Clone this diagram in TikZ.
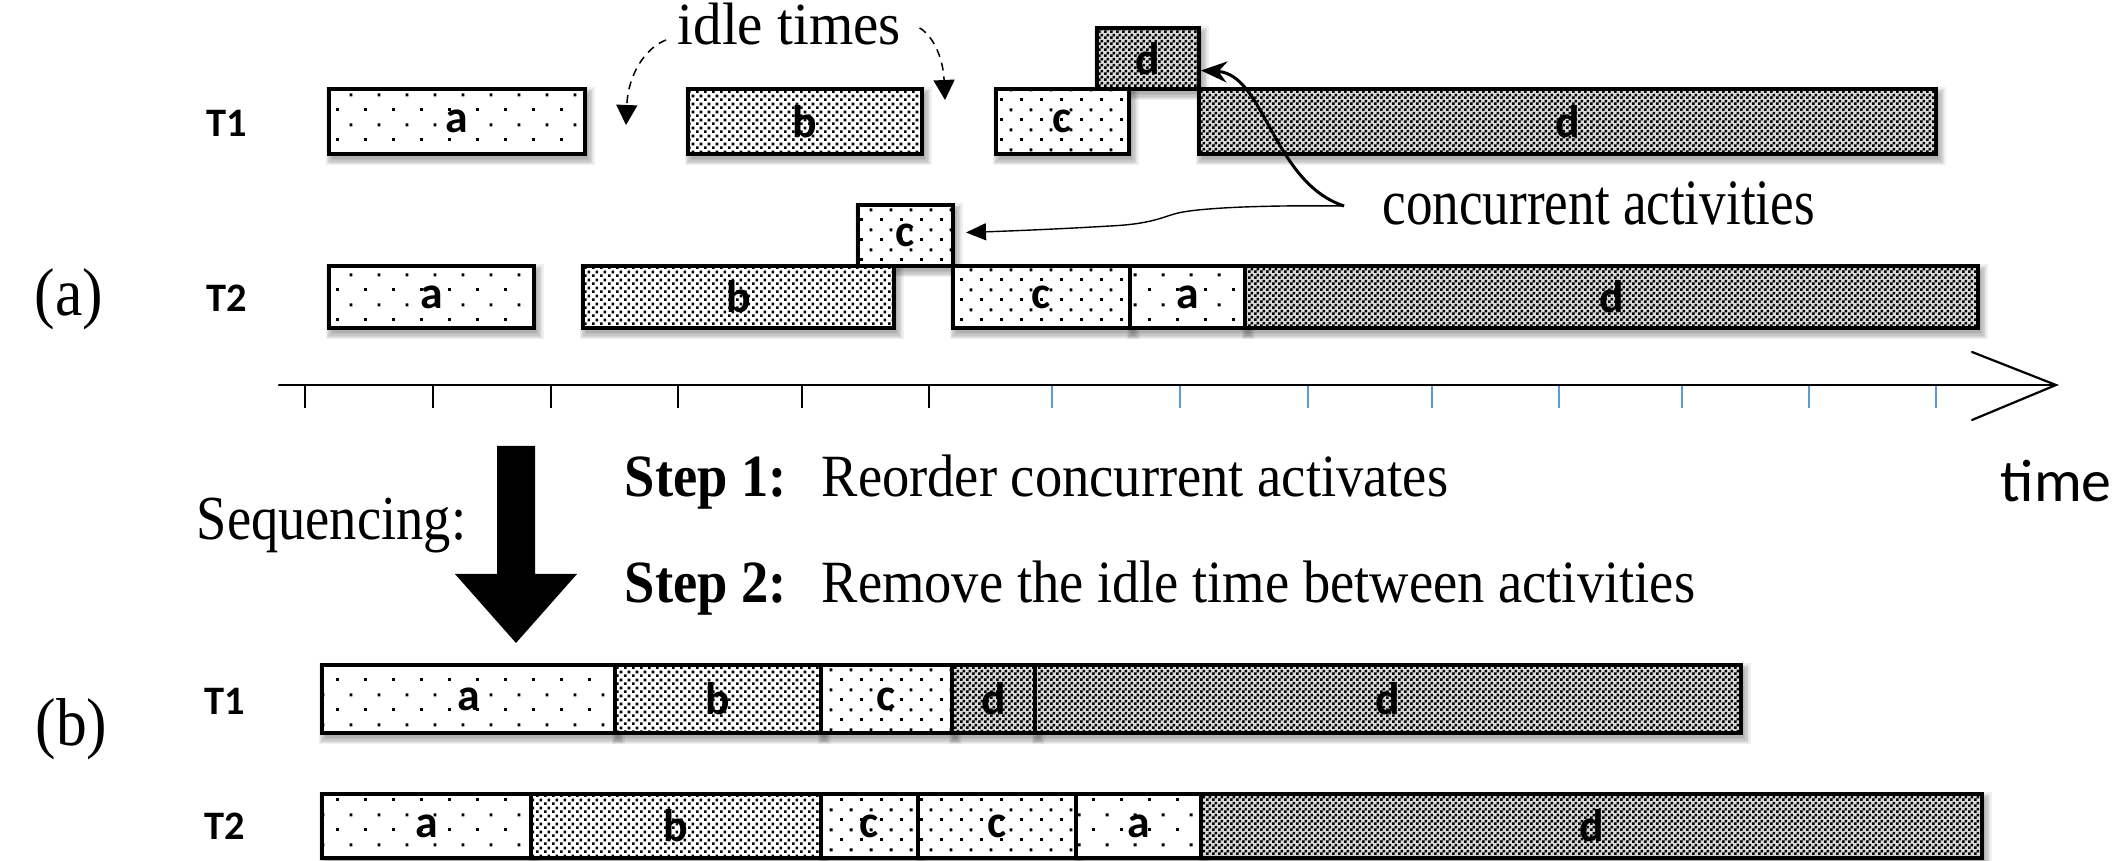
\documentclass[tikz,border=0pt]{standalone}
\usepackage{fontspec}
\usepackage{graphicx}
\setmainfont{Liberation Serif}
\newfontfamily\calibri{Carlito}
\usetikzlibrary{arrows.meta,patterns,calc}

\pgfdeclarelayer{shade}
\pgfsetlayers{shade,main}

% fill patterns of the activity boxes (1px = 0.01cm = 0.28453pt)
\pgfdeclarepatternformonly{adots}{\pgfpointorigin}{\pgfqpoint{7.967pt}{8.536pt}}{\pgfqpoint{7.967pt}{8.536pt}}{%
  \pgfpathrectangle{\pgfqpoint{0pt}{0pt}}{\pgfqpoint{0.854pt}{0.854pt}}%
  \pgfpathrectangle{\pgfqpoint{3.983pt}{4.268pt}}{\pgfqpoint{0.854pt}{0.854pt}}%
  \pgfusepath{fill}}
\pgfdeclarepatternformonly{cdots}{\pgfpointorigin}{\pgfqpoint{5.691pt}{5.691pt}}{\pgfqpoint{5.691pt}{5.691pt}}{%
  \pgfpathrectangle{\pgfqpoint{0pt}{0pt}}{\pgfqpoint{0.854pt}{0.854pt}}%
  \pgfpathrectangle{\pgfqpoint{2.845pt}{2.845pt}}{\pgfqpoint{0.854pt}{0.854pt}}%
  \pgfusepath{fill}}
\pgfdeclarepatternformonly{bdots}{\pgfpointorigin}{\pgfqpoint{2.276pt}{2.276pt}}{\pgfqpoint{2.276pt}{2.276pt}}{%
  \pgfpathrectangle{\pgfqpoint{0pt}{0pt}}{\pgfqpoint{0.854pt}{0.854pt}}%
  \pgfpathrectangle{\pgfqpoint{1.138pt}{1.138pt}}{\pgfqpoint{0.854pt}{0.854pt}}%
  \pgfusepath{fill}}
\pgfdeclarepatternformonly{dcheck}{\pgfpointorigin}{\pgfqpoint{1.707pt}{1.707pt}}{\pgfqpoint{1.707pt}{1.707pt}}{%
  \pgfpathrectangle{\pgfqpoint{0pt}{0pt}}{\pgfqpoint{0.854pt}{0.854pt}}%
  \pgfpathrectangle{\pgfqpoint{0.854pt}{0.854pt}}{\pgfqpoint{0.854pt}{0.854pt}}%
  \pgfusepath{fill}}

\definecolor{tickblue}{HTML}{5B9BD5}

% vertically stretched text
\newcommand\vstr[2]{\scalebox{1}[#1]{#2}}

% activity box: name, x1, y1, x2, y2, style, label (with a soft shadow below)
\newcommand\actbox[7]{%
  \begin{pgfonlayer}{shade}
    \foreach \k in {0,...,5}
      \fill[black, opacity=0.06] (#2+3-\k*1.3, #3+5-\k*1.3) rectangle (#4+3+\k*1.3, #5+5+\k*1.3);
  \end{pgfonlayer}
  \pgfmathsetmacro\boxw{(#4-#2)*0.01}%
  \pgfmathsetmacro\boxh{(#5-#3)*0.01}%
  \node[actbox, #6, minimum width=\boxw cm, minimum height=\boxh cm]
    (#1) at ({(#2+#4)/2},{(#3+#5)/2}) {#7};%
}

\tikzset{
  actbox/.style={draw=black, line width=0.033cm, inner sep=0pt, outer sep=0pt,
    font=\calibri\bfseries\fontsize{13}{14}\selectfont},
  pa/.style={preaction={fill=white}, pattern=adots},
  pb/.style={preaction={fill=white}, pattern=bdots},
  pc/.style={preaction={fill=white}, pattern=cdots},
  pd/.style={preaction={fill=black!15}, pattern=dcheck},
  rowlbl/.style={anchor=base, inner sep=0pt, font=\calibri\bfseries\fontsize{11.5}{13}\selectfont},
  serif/.style={anchor=base west, inner sep=0pt},
  idlearrow/.style={line width=0.015cm, dash pattern=on 0.08cm off 0.06cm,
    -{Triangle[length=0.2cm, width=0.21cm]}},
  concarrow/.style={line width=0.03cm, -{Stealth[length=0.26cm, width=0.21cm]}},
  concarrowthin/.style={line width=0.014cm, -{Triangle[length=0.2cm, width=0.17cm]}},
  axisline/.style={line width=0.022cm, line cap=round},
  tickmark/.style={line width=0.014cm},
}

\begin{document}
\begin{tikzpicture}[x=0.01cm, y=-0.01cm]
\useasboundingbox (0,0) rectangle (2120,861);

% ---------- (a) original schedule ----------
\node[serif] (lbla) at (34,316) {\fontsize{17.5}{20}\selectfont\vstr{1.1}{(a)}};
\node[rowlbl] (t1a) at (227,137) {T1};
\node[rowlbl] (t2a) at (227,312) {T2};

% T1
\actbox{a1a}{329}{89}{585}{154}{pa}{a}
\actbox{a1b}{688}{89}{922}{154}{pb}{b}
\actbox{a1c}{996}{89}{1129}{154}{pc}{c}
\actbox{a1ds}{1097}{28}{1199}{89}{pd}{d}
\actbox{a1d}{1199}{89}{1936}{154}{pd}{d}

% T2
\actbox{a2a}{329}{266}{534}{328}{pa}{a}
\actbox{a2b}{583}{266}{894}{328}{pb}{b}
\actbox{a2cs}{858}{205}{953}{266}{pc}{c}
\actbox{a2c}{953}{266}{1130}{328}{pc}{c}
\actbox{a2a2}{1130}{266}{1245}{328}{pa}{a}
\actbox{a2d}{1245}{266}{1978}{328}{pd}{d}

% idle times annotation
\node[serif] (idle) at (677,45) {\fontsize{16.2}{18}\selectfont\vstr{1.05}{idle times}};
\coordinate (gap1) at (626,125);
\coordinate (gap2) at (945,100);
\draw[idlearrow] ($(idle.base west)+(-11,-5)$) .. controls (645,48) and (628,75) .. (gap1);
\draw[idlearrow] ($(idle.base east)+(18,-17)$) .. controls (931,34) and (943,55) .. (gap2);

% concurrent activities annotation
\node[serif] (conc) at (1382,225) {\fontsize{15.1}{17}\selectfont\vstr{1.22}{concurrent activities}};
\coordinate (cc) at ($(conc.base west)+(-38,-19)$);
\draw[concarrow] (cc) .. controls (1272,182) and (1265,74) .. ($(a1ds.east)+(2,12)$);
\draw[concarrowthin] (cc) .. controls (1260,205) and (1200,208) .. (1178,213)
  .. controls (1162,217) and (1152,224) .. (1110,226)
  .. controls (1060,229) and (1010,231) .. ($(a2cs.east)+(13,-3)$);

% time axis
\coordinate (ax0) at (279,385);
\coordinate (ax1) at (2056,385);
\draw[axisline] (ax0) -- (ax1);
\draw[axisline] (1972,352) -- (ax1) -- (1972,420);
\foreach \t in {305,433,551,678,802,929}
  \draw[tickmark] (\t,385) -- (\t,408);
\foreach \t in {1052,1180,1308,1432,1559,1682,1809,1936}
  \draw[tickmark, tickblue] (\t,386) -- (\t,408);
\node[anchor=base west, inner sep=0pt, font=\calibri\fontsize{17}{20}\selectfont] (timelbl) at (2000,502) {time};

% sequencing arrow and steps
\fill (497,446) -- (535,446) -- (535,574) -- (577,574) -- (516,643) -- (455,574) -- (497,574) -- cycle;
\node[serif] (seq) at (196,540) {\fontsize{15.5}{18}\selectfont\vstr{1.15}{Sequencing:}};
\node[serif] (s1h) at (624,497) {\fontsize{15.5}{18}\selectfont\vstr{1.1}{\textbf{Step 1:}}};
\node[serif] (s1t) at (821,497) {\fontsize{15.5}{18}\selectfont\vstr{1.1}{Reorder concurrent activates}};
\node[serif] (s2h) at (624,603) {\fontsize{15.5}{18}\selectfont\vstr{1.1}{\textbf{Step 2:}}};
\node[serif] (s2t) at (821,603) {\fontsize{15.5}{18}\selectfont\vstr{1.1}{Remove the idle time between activities}};

% ---------- (b) sequenced schedule ----------
\node[serif] (lblb) at (35,745) {\fontsize{17.5}{20}\selectfont\vstr{1.1}{(b)}};
\node[rowlbl] (t1b) at (225,715) {T1};
\node[rowlbl] (t2b) at (225,840) {T2};

% T1
\actbox{b1a}{322}{665}{615}{733}{pa}{a}
\actbox{b1b}{615}{665}{821}{733}{pb}{b}
\actbox{b1c}{821}{665}{952}{733}{pc}{c}
\actbox{b1d}{952}{665}{1035}{733}{pd}{d}
\actbox{b1d2}{1035}{665}{1741}{733}{pd}{d}

% T2
\actbox{b2a}{322}{794}{531}{858}{pa}{a}
\actbox{b2b}{531}{794}{821}{858}{pb}{b}
\actbox{b2c}{821}{794}{918}{858}{pc}{c}
\actbox{b2c2}{918}{794}{1076}{858}{pc}{c}
\actbox{b2a2}{1076}{794}{1201}{858}{pa}{a}
\actbox{b2d}{1201}{794}{1982}{858}{pd}{d}

\end{tikzpicture}
\end{document}
